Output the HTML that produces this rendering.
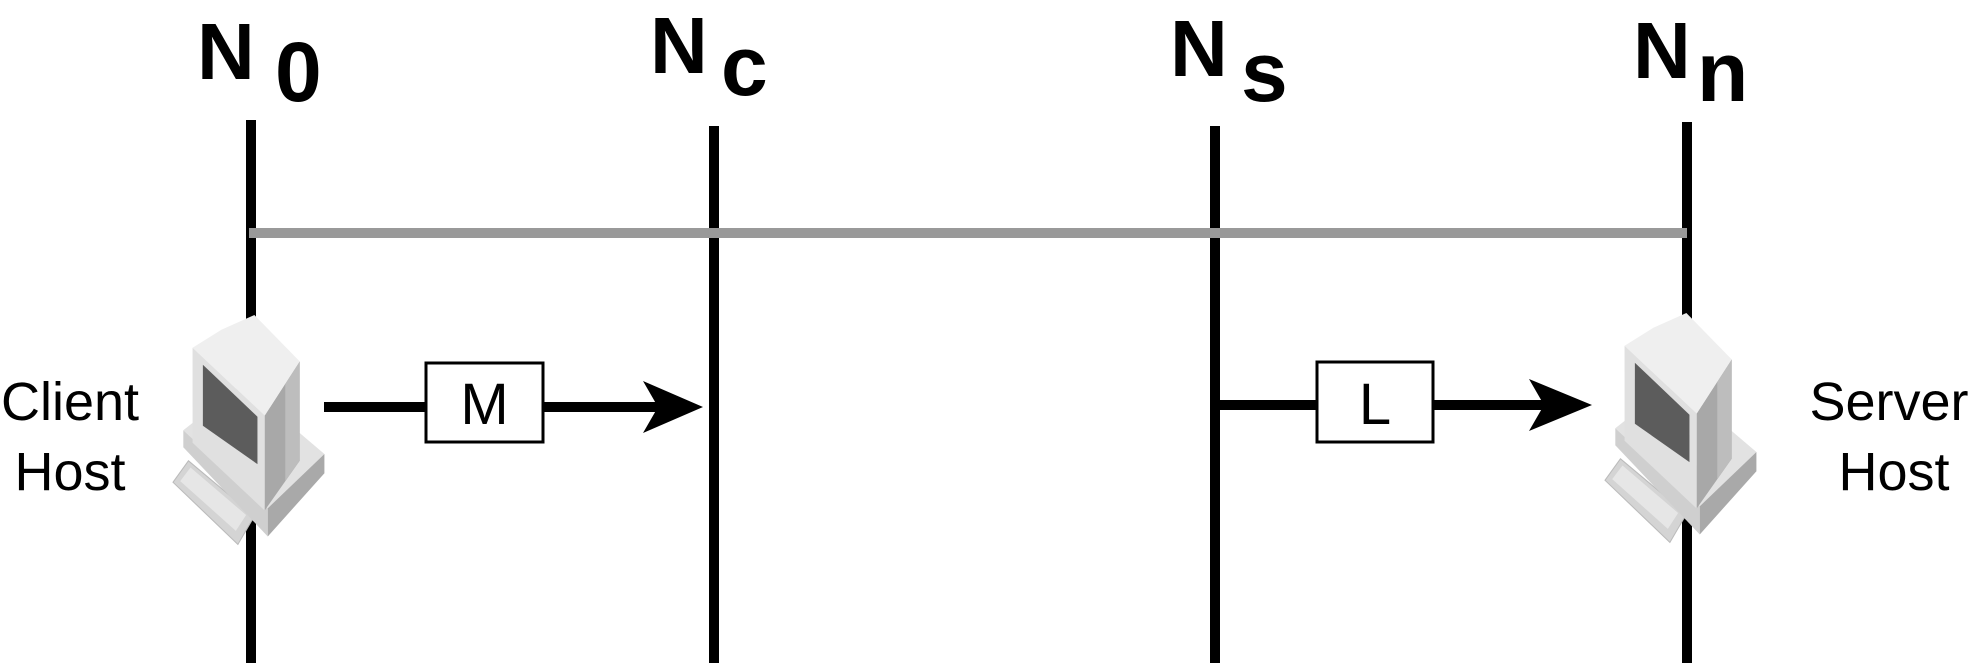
<!DOCTYPE html>
<html><head><meta charset="utf-8"><style>
html,body{margin:0;padding:0;background:#fff;}
svg{display:block;}
</style></head><body>
<svg width="1978" height="663" viewBox="0 0 1978 663" xmlns="http://www.w3.org/2000/svg">
<defs>
<g id="pc">
  <polygon points="173,437 188,418 252,467 236,492" fill="#d4d4d4" stroke="#bbb" stroke-width="1"/>
  <polygon points="180,436 190,424 244,466 234,480" fill="#e6e6e6"/>
  <polygon points="183,391 240,350 320,412 265,460" fill="#e2e2e2"/>
  <polygon points="183,391 265,460 265,485 183,406" fill="#cfcfcf"/>
  <polygon points="265,460 320,412 320,429 265,485" fill="#a9a9a9"/>
  <polygon points="262,378 296,330 296,418 262,462" fill="#a8a8a8"/>
  <polygon points="282,350 296,330 296,418 282,436" fill="#bdbdbd"/>
  <polygon points="192,318 220,302 252,289 296,330 262,378" fill="#efefef"/>
  <polygon points="192,318 262,378 262,462 192,402" fill="#e0e0e0"/>
  <polygon points="202,333 255,379 255,421 202,387" fill="#5c5c5c"/>
</g>
</defs>

<rect x="246" y="120" width="10" height="543" fill="#000"/>
<rect x="709" y="126" width="10" height="537" fill="#000"/>
<rect x="1210" y="126" width="10" height="537" fill="#000"/>
<rect x="1682" y="122" width="10" height="541" fill="#000"/>

<rect x="249" y="228" width="1438" height="10" fill="#999"/>

<g font-family="Liberation Sans, sans-serif" font-weight="bold" font-size="80" fill="#000">
  <text x="197" y="79">N</text><text x="275" y="101" font-size="84">0</text>
  <text x="650" y="73">N</text><text x="721" y="95" font-size="84">c</text>
  <text x="1170" y="76">N</text><text x="1241" y="101" font-size="84">s</text>
  <text x="1633" y="78">N</text><text x="1697" y="101" font-size="84">n</text>
</g>

<rect x="324" y="402" width="340" height="10" fill="#000"/>
<polygon points="643,381 703,407 643,433 658,407" fill="#000"/>
<rect x="426" y="363" width="117" height="79" fill="#fff" stroke="#000" stroke-width="3"/>
<text x="484.5" y="424" text-anchor="middle" font-family="Liberation Sans, sans-serif" font-size="58">M</text>

<rect x="1215" y="400" width="330" height="10" fill="#000"/>
<polygon points="1529,379 1592,405 1529,431 1544,405" fill="#000"/>
<rect x="1317" y="362" width="116" height="80" fill="#fff" stroke="#000" stroke-width="3"/>
<text x="1375" y="424" text-anchor="middle" font-family="Liberation Sans, sans-serif" font-size="58">L</text>

<use href="#pc" transform="matrix(1.03 0 0 1.13 -5.19 -11.57)"/>
<use href="#pc" transform="translate(1432,-2) matrix(1.03 0 0 1.13 -5.19 -11.57)"/>

<g font-family="Liberation Sans, sans-serif" font-size="54" fill="#000" text-anchor="middle">
  <text x="70" y="420">Client</text>
  <text x="70" y="490">Host</text>
  <text x="1889" y="420">Server</text>
  <text x="1894" y="490">Host</text>
</g>
</svg>
</body></html>
